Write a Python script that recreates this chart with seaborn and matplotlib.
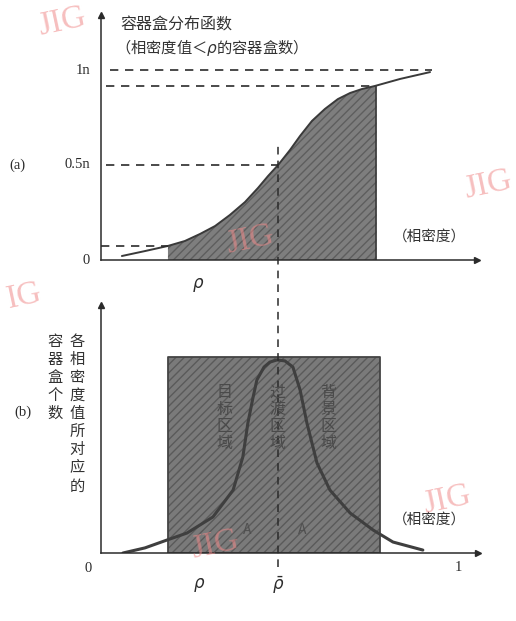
import numpy as np
import pandas as pd
import seaborn as sns
import matplotlib.pyplot as plt

sns.set_theme(style="white")
plt.rcParams['font.family'] = ['Noto Sans CJK SC', 'DejaVu Sans']

# (a) cumulative distribution of container boxes, x = relative density, y = fraction of n
cdf_x = [0.058, 0.122, 0.186, 0.233, 0.275, 0.317, 0.358, 0.400, 0.436, 0.464, 0.492,
         0.525, 0.553, 0.586, 0.622, 0.658, 0.692, 0.725, 0.761, 0.831, 0.914]
cdf_y = [0.021, 0.047, 0.074, 0.100, 0.137, 0.179, 0.237, 0.305, 0.379, 0.442, 0.500,
         0.579, 0.653, 0.732, 0.795, 0.847, 0.879, 0.900, 0.916, 0.953, 0.989]

# (b) number of boxes per density value
pdf_x = [0.061, 0.122, 0.183, 0.239, 0.311, 0.367, 0.394, 0.408, 0.422, 0.433, 0.453, 0.469,
         0.489, 0.511, 0.533, 0.553, 0.572, 0.600, 0.636, 0.692, 0.756, 0.811, 0.894]
pdf_y = [0.0, 0.026, 0.066, 0.102, 0.184, 0.321, 0.490, 0.663, 0.791, 0.883, 0.949, 0.974,
         0.985, 0.980, 0.949, 0.832, 0.663, 0.459, 0.321, 0.204, 0.117, 0.056, 0.015]

rho_lo, rho_bar, rho_hi = 0.186, 0.492, 0.765
box_hi = 0.775
box_height = 1.0
ytick_vals = [0, 0.5, 1.0]
ytick_labels = ["0", "0.5n", "1n"]
regions = ["目标区域", "过渡区域", "背景区域"]

cdf = pd.DataFrame({"x": cdf_x, "y": cdf_y})
pdf = pd.DataFrame({"x": pdf_x, "y": pdf_y})

fig = plt.figure(figsize=(5.16, 6.21), dpi=100)
W, H = 516, 621
ax_a = fig.add_axes([101 / W, (H - 260) / H, 376 / W, 245 / H])
ax_b = fig.add_axes([101 / W, (H - 553) / H, 377 / W, 248 / H])

ink = "#2b2b2b"
dash = (0, (5, 4))

for ax in (ax_a, ax_b):
    for s in ("top", "right"):
        ax.spines[s].set_visible(False)
    for s in ("left", "bottom"):
        ax.spines[s].set_color(ink)
        ax.spines[s].set_linewidth(1.1)
    ax.set_xticks([])
    ax.set_yticks([])
    ax.set_facecolor("white")
    ax.plot(1, 0, ">", color=ink, ms=5, transform=ax.transAxes, clip_on=False)
    ax.plot(0, 1, "^", color=ink, ms=5, transform=ax.transAxes, clip_on=False)

# ---- panel (a)
ax_a.set_xlim(0, 376 / 360)
ax_a.set_ylim(0, 245 / 190)
y_lo = np.interp(rho_lo, cdf_x, cdf_y)
y_hi = np.interp(rho_hi, cdf_x, cdf_y)
inner = cdf[(cdf.x > rho_lo) & (cdf.x < rho_hi)]
fx = np.r_[rho_lo, inner.x, rho_hi]
fy = np.r_[y_lo, inner.y, y_hi]
ax_a.fill_between(fx, 0, fy, facecolor="#7e7e7e", edgecolor="#5e5e5e",
                  hatch="////", linewidth=0)
sns.lineplot(data=cdf, x="x", y="y", ax=ax_a, color="#3a3a3a", linewidth=1.4)
ax_a.vlines(rho_hi, 0, y_hi, color="#3a3a3a", lw=1.2)

ax_a.hlines(1.0, 0.025, 0.919, color=ink, lw=1.2, linestyles=dash)
ax_a.hlines(y_hi, 0.014, rho_hi, color=ink, lw=1.2, linestyles=dash)
ax_a.hlines(0.5, 0.014, rho_bar, color=ink, lw=1.2, linestyles=dash)
ax_a.hlines(y_lo, 0.0, rho_lo, color=ink, lw=1.2, linestyles=dash)

for v, lab in zip(ytick_vals, ytick_labels):
    ax_a.text(-0.03, v, lab, ha="right", va="center", fontsize=10.5, color=ink,
              family="Liberation Serif")
ax_a.text(0.053, 1.237, "容器盒分布函数", fontsize=11.5, color="#333333", va="center")
ax_a.text(0.04, 1.121, "（相密度值＜$\\it{\\rho}$的容器盒数）", fontsize=11, color="#333333",
          va="center")
ax_a.text(0.911, 0.121, "（相密度）", fontsize=10.5, color="#333333", ha="center", va="center")
ax_a.text(0.269, -0.132, "$\\rho$", fontsize=12, color=ink, ha="center", va="center")
ax_a.text(-0.231, 0.5, "(a)", fontsize=10.5, color=ink, ha="center", va="center",
          family="Liberation Serif")

# ---- panel (b)
ax_b.set_xlim(0, 377 / 360)
ax_b.set_ylim(0, 248 / 196)
ax_b.fill_between([rho_lo, box_hi], 0, box_height, facecolor="#7a7a7a", edgecolor="#5a5a5a",
                  hatch="////", linewidth=0)
ax_b.plot([rho_lo, rho_lo, box_hi, box_hi, rho_lo], [0, box_height, box_height, 0, 0],
          color="#444444", lw=1.3)
sns.lineplot(data=pdf, x="x", y="y", ax=ax_b, color="#3f3f3f", linewidth=2.2)
ax_b.vlines(rho_bar, -0.07, 2.09, color=ink, lw=1.1, linestyles=dash, clip_on=False)

for xr, txt in zip([0.344, 0.489, 0.631], regions):
    ax_b.text(xr, 0.689, "\n".join(txt), fontsize=11.5, color="#4a4a4a", ha="center",
              va="center", linespacing=1.0)
ax_b.text(0.406, 0.117, "A", fontsize=10, color="#505050", ha="center", va="center")
ax_b.text(0.558, 0.117, "A", fontsize=10, color="#505050", ha="center", va="center")
ax_b.text(0.911, 0.168, "（相密度）", fontsize=10.5, color="#333333", ha="center", va="center")
ax_b.text(-0.036, -0.077, "0", fontsize=10.5, color=ink, ha="center", va="center",
          family="Liberation Serif")
ax_b.text(0.994, -0.072, "1", fontsize=10.5, color=ink, ha="center", va="center",
          family="Liberation Serif")
ax_b.text(0.272, -0.163, "$\\rho$", fontsize=12, color=ink, ha="center", va="center")
ax_b.text(0.492, -0.163, "$\\bar{\\rho}$", fontsize=12, color=ink, ha="center", va="center")
ax_b.text(-0.217, 0.719, "(b)", fontsize=10.5, color=ink, ha="center", va="center",
          family="Liberation Serif")
ax_b.text(-0.067, 1.122, "\n".join("各相密度值所对应的"), fontsize=11, color="#333333",
          ha="center", va="top", linespacing=1.08)
ax_b.text(-0.128, 1.122, "\n".join("容器盒个数"), fontsize=11, color="#333333",
          ha="center", va="top", linespacing=1.08)

# watermarks
for (px, py, t) in [(62, 22, "JIG"), (488, 185, "JIG"), (250, 240, "JIG"), (24, 296, "IG"),
                    (447, 500, "JIG"), (215, 545, "JIG")]:
    fig.text(px / W, 1 - py / H, t, fontsize=24, color="#f08a8a", alpha=0.55, rotation=12,
             ha="center", va="center", family="Liberation Serif")

fig.savefig("out.png", dpi=100)
